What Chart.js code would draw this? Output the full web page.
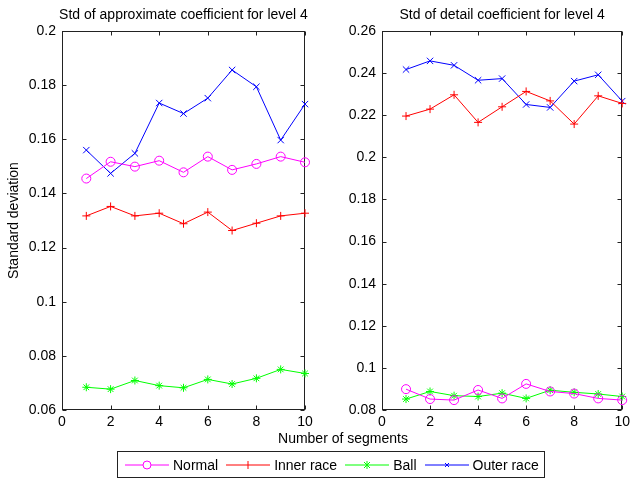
<!DOCTYPE html>
<html lang="en">
<head>
  <meta charset="UTF-8">
  <title>Std of coefficients</title>
  <script src="https://cdn.jsdelivr.net/npm/chart.js"></script>
  <style>
    body { margin: 0; background: #fff; font-family: "Liberation Sans", Arial, sans-serif; }
    #page { position: relative; width: 634px; height: 481px; overflow: hidden; }
    .box { position: absolute; top: 0; height: 440px; }
    #xlabel { position: absolute; left: 0; width: 686px; top: 430px; line-height: 16px; font-size: 14px; text-align: center; }
    #legend { position: absolute; left: 117px; top: 451px; width: 428px; height: 27px; box-sizing: border-box;
      border: 1px solid #222; display: flex; align-items: center; padding-left: 7px; font-size: 14px; white-space: nowrap; }
    .item { display: flex; align-items: center; margin-right: 8px; flex-shrink: 0; }
    .item svg { display: block; margin-right: 4px; }
  </style>
</head>
<body>
<div id="page">
  <div class="box" style="left:0;width:320px"><canvas id="approxChart"></canvas></div>
  <div class="box" style="left:320px;width:314px"><canvas id="detailChart"></canvas></div>
  <div id="xlabel">Number of segments</div>
  <div id="legend"></div>
</div>
<script>
  const segments = [1, 2, 3, 4, 5, 6, 7, 8, 9, 10];
  const seriesNames = ["Normal", "Inner race", "Ball", "Outer race"];

  // level 4 approximate coefficients
  const approxNormal = [0.1455, 0.1517, 0.1499, 0.1521, 0.1478, 0.1536, 0.1487, 0.1509, 0.1536, 0.1515];
  const approxInner  = [0.1317, 0.1352, 0.1317, 0.1327, 0.1288, 0.1331, 0.1263, 0.1290, 0.1317, 0.1327];
  const approxBall   = [0.0684, 0.0677, 0.0709, 0.0690, 0.0682, 0.0713, 0.0696, 0.0717, 0.0750, 0.0735];
  const approxOuter  = [0.1560, 0.1474, 0.1548, 0.1734, 0.1695, 0.1752, 0.1856, 0.1794, 0.1597, 0.1730];

  // level 4 detail coefficients
  const detailNormal = [0.0899, 0.0852, 0.0847, 0.0895, 0.0855, 0.0924, 0.0888, 0.0878, 0.0855, 0.0847];
  const detailInner  = [0.2196, 0.2229, 0.2297, 0.2166, 0.2240, 0.2313, 0.2268, 0.2158, 0.2292, 0.2256];
  const detailBall   = [0.0852, 0.0888, 0.0868, 0.0864, 0.0880, 0.0855, 0.0894, 0.0884, 0.0876, 0.0864];
  const detailOuter  = [0.2417, 0.2458, 0.2437, 0.2366, 0.2374, 0.2251, 0.2237, 0.2362, 0.2392, 0.2267];

  const xTicks = [0, 2, 4, 6, 8, 10];
  const approxYTicks = [0.06, 0.08, 0.1, 0.12, 0.14, 0.16, 0.18, 0.2];
  const detailYTicks = [0.08, 0.1, 0.12, 0.14, 0.16, 0.18, 0.2, 0.22, 0.24, 0.26];

  const colors = ["#ff00ff", "#ff0000", "#00ff00", "#0000ff"];
  const markers = ["circle", "cross", "star", "crossRot"];
  const radii = [4.5, 4, 4, 4.5];

  Chart.defaults.font.family = "'Liberation Sans', Arial, sans-serif";
  Chart.defaults.font.size = 14;
  Chart.defaults.color = "#000";

  // MATLAB style box with ticks pointing inwards
  const matlabBox = {
    id: 'matlabBox',
    beforeDatasetsDraw(chart) {
      const a = chart.chartArea, c = chart.ctx;
      const l = Math.round(a.left) + 0.5, r = Math.round(a.right) - 0.5;
      const t = Math.round(a.top) + 0.5, b = Math.round(a.bottom) - 0.5;
      c.save();
      c.strokeStyle = "#222";
      c.lineWidth = 1;
      c.strokeRect(l, t, r - l, b - t);
      c.beginPath();
      chart.scales.x.ticks.forEach(tk => {
        const px = Math.round(chart.scales.x.getPixelForValue(tk.value)) + 0.5;
        c.moveTo(px, b); c.lineTo(px, b - 4);
        c.moveTo(px, t); c.lineTo(px, t + 4);
      });
      chart.scales.y.ticks.forEach(tk => {
        const py = Math.round(chart.scales.y.getPixelForValue(tk.value)) + 0.5;
        c.moveTo(l, py); c.lineTo(l + 4, py);
        c.moveTo(r, py); c.lineTo(r - 4, py);
      });
      c.stroke();
      c.restore();
    },
    // title centred over the plot box, as in the original figure
    afterDraw(chart) {
      const a = chart.chartArea, c = chart.ctx;
      c.save();
      c.font = "14px 'Liberation Sans', Arial, sans-serif";
      c.fillStyle = "#000";
      c.textAlign = "center";
      c.textBaseline = "middle";
      c.fillText(chart.options.plugins.boxTitle.text, (a.left + a.right) / 2, 15);
      c.restore();
    }
  };

  function makeChart(id, title, lists, yTicks, yTitle, padRight) {
    const datasets = lists.map((vals, i) => ({
      label: seriesNames[i],
      data: segments.map((s, k) => ({ x: s, y: vals[k] })),
      borderColor: colors[i],
      backgroundColor: 'transparent',
      borderWidth: 1,
      pointStyle: markers[i],
      pointRadius: radii[i],
      pointBorderColor: colors[i],
      pointBorderWidth: 1,
      pointHoverRadius: radii[i],
      tension: 0,
      clip: false
    }));
    return new Chart(document.getElementById(id), {
      type: 'line',
      data: { datasets: datasets },
      plugins: [matlabBox],
      options: {
        responsive: true,
        maintainAspectRatio: false,
        animation: false,
        events: [],
        layout: { padding: { left: 0, right: padRight, top: 31, bottom: 0 } },
        plugins: {
          legend: { display: false },
          tooltip: { enabled: false },
          title: { display: false },
          boxTitle: { text: title }
        },
        scales: {
          x: {
            type: 'linear',
            min: xTicks[0],
            max: xTicks[xTicks.length - 1],
            afterBuildTicks: sc => { sc.ticks = xTicks.map(v => ({ value: v })); },
            afterFit: sc => { sc.height = 30; },
            grid: { display: false, drawTicks: false },
            border: { display: false },
            ticks: { padding: 4, maxRotation: 0, autoSkip: false, callback: v => String(v) }
          },
          y: {
            type: 'linear',
            min: yTicks[0],
            max: yTicks[yTicks.length - 1],
            afterBuildTicks: sc => { sc.ticks = yTicks.map(v => ({ value: v })); },
            afterFit: sc => { sc.width = 62; },
            grid: { display: false, drawTicks: false },
            border: { display: false },
            ticks: { padding: 6, autoSkip: false, callback: v => String(+v.toFixed(2)) },
            title: {
              display: yTitle !== '',
              text: yTitle,
              font: { size: 14 },
              padding: { top: 6, bottom: 0 }
            }
          }
        }
      }
    });
  }

  makeChart('approxChart', 'Std of approximate coefficient for level 4',
    [approxNormal, approxInner, approxBall, approxOuter], approxYTicks, 'Standard deviation', 15);
  makeChart('detailChart', 'Std of detail coefficient for level 4',
    [detailNormal, detailInner, detailBall, detailOuter], detailYTicks, '', 9);

  // legend: line sample with marker, then the name
  function markerSvg(i) {
    const c = colors[i], cx = 22, cy = 7;
    let m = '';
    if (markers[i] === 'circle') m = `<circle cx="${cx}" cy="${cy}" r="4" fill="#fff" stroke="${c}"/>`;
    if (markers[i] === 'cross') m = `<path d="M${cx} ${cy-4}V${cy+4}" stroke="${c}"/>`;
    if (markers[i] === 'star') m = `<path d="M${cx} ${cy-4}V${cy+4}M${cx-3} ${cy-3}L${cx+3} ${cy+3}M${cx+3} ${cy-3}L${cx-3} ${cy+3}" stroke="${c}"/>`;
    if (markers[i] === 'crossRot') m = `<path d="M${cx-2} ${cy-2}L${cx+2} ${cy+2}M${cx+2} ${cy-2}L${cx-2} ${cy+2}" stroke="${c}"/>`;
    return `<svg width="44" height="14"><line x1="0" y1="${cy}" x2="44" y2="${cy}" stroke="${c}" stroke-width="1"/>${m}</svg>`;
  }
  const legendEl = document.getElementById('legend');
  seriesNames.forEach((name, i) => {
    const item = document.createElement('div');
    item.className = 'item';
    item.innerHTML = markerSvg(i) + '<span>' + name + '</span>';
    legendEl.appendChild(item);
  });
</script>
</body>
</html>
